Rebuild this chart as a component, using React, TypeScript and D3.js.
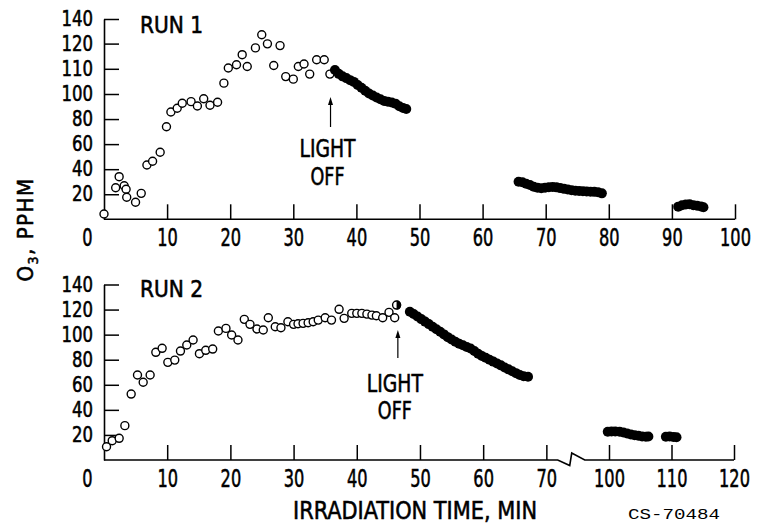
import { useEffect, useRef } from "react";
import * as d3 from "d3";

type Pt = [number, number];

// Run 1 (upper panel): time (min), O3 (pphm)
const run1Open: Pt[] = [
  [0.0, 4.2], [1.85, 25.2], [2.4, 34], [3.2, 26.8], [3.5, 24], [3.6, 17.6], [5.0, 13.6], [5.9, 20.7],
  [6.8, 43.3], [7.7, 46.3], [8.9, 53.5], [9.9, 73.9], [10.6, 85.6], [11.6, 88.6], [12.4, 92.6],
  [13.8, 93.9], [14.8, 90.4], [15.8, 96.2], [16.8, 91], [18.0, 93.4], [19.0, 104.3], [19.7, 110.3],
  [21.0, 111.6], [21.9, 115.6], [22.7, 110.9], [24.0, 118.3], [25.0, 127.2], [25.9, 119.9],
  [26.9, 111.3], [27.9, 119.2], [28.8, 106.9], [30.0, 105.9], [30.8, 110.9], [31.7, 111.9],
  [32.6, 107.9], [33.7, 113.6], [34.9, 113.6], [35.8, 107.9],
];
const run1Dark: Pt[] = [
  [36.6, 109.5], [37.2, 108], [37.8, 107], [38.4, 106.3], [39.0, 105.5], [39.6, 104.8], [40.2, 103.6],
  [40.8, 102.5], [41.4, 101.3], [42.0, 100.2], [42.6, 98.8], [43.2, 97.2], [43.8, 95.8], [44.4, 94.5],
  [45.0, 93.8], [45.6, 93.2], [46.2, 92.3], [46.8, 90.2], [47.4, 88.8], [47.9, 88.0],
  [65.7, 30], [66.3, 29.5], [66.9, 28.4], [67.5, 27.4], [68.1, 26.0], [68.7, 25.2], [69.3, 24.8],
  [69.9, 25.2], [70.5, 25.6], [71.1, 25.8], [71.7, 25.5], [72.3, 24.9], [72.9, 24.3], [73.5, 23.8],
  [74.1, 23.2], [74.7, 22.8], [75.3, 22.6], [75.9, 22.4], [76.5, 22.2], [77.1, 22.0], [77.7, 21.9],
  [78.3, 21.6], [78.9, 20.7],
  [91.0, 10.1], [91.6, 11.2], [92.2, 11.8], [92.8, 12.0], [93.4, 11.3], [94.0, 10.8], [94.6, 10.3], [95.0, 9.6],
];

// Run 2 (lower panel)
const run2Open: Pt[] = [
  [0.4, 10.6], [1.3, 15.4], [2.4, 17.3], [3.3, 27.4], [4.3, 52.6], [5.3, 67.8], [6.2, 62.0], [7.3, 67.8],
  [8.2, 85.9], [9.2, 89.1], [10.1, 77.9], [11.2, 79.7], [12.1, 86.9], [13.1, 91.7], [14.1, 95.7],
  [15.1, 84.8], [16.1, 87.5], [17.2, 88.5], [18.1, 102.9], [19.3, 105.0], [20.2, 99.7], [21.2, 95.7],
  [22.2, 112.2], [23.1, 108.2], [24.2, 104.5], [25.2, 103.7], [26.0, 113.5], [27.1, 106.3],
  [28.0, 105.5], [29.1, 110.3], [30.0, 108.2], [30.7, 108.7], [31.5, 109.0], [32.3, 109.5],
  [33.1, 110.3], [33.9, 111.6], [35.0, 113.5], [36.0, 111.6], [37.2, 120.2], [38.0, 113.0],
  [39.2, 117.0], [40.0, 117.0], [40.8, 117.0], [41.6, 116.4], [42.4, 115.6], [43.1, 115.1],
  [44.1, 113.5], [45.1, 117.8], [46.0, 113.5],
];
const run2Half: Pt[] = [[46.3, 123.6]];
const run2Dark: Pt[] = [
  [48.4, 118.3], [49.0, 116.4], [49.6, 114.5], [50.2, 112.4], [50.8, 110.4], [51.4, 108.4], [52.0, 106.3],
  [52.6, 104.3], [53.2, 102.3], [53.8, 100.2], [54.4, 98.0], [55.0, 96.1], [55.6, 94.4], [56.2, 92.8],
  [56.8, 91.5], [57.4, 90.2], [58.0, 88.9], [58.6, 86.9], [59.2, 84.8], [59.8, 83.0], [60.4, 81.5],
  [61.0, 80.0], [61.6, 78.5], [62.2, 77.0], [62.8, 75.5], [63.4, 73.8], [64.0, 72.3], [64.6, 70.8],
  [65.2, 69.3], [65.8, 67.8], [66.4, 66.8], [67.1, 66.4],
  [99.8, 22.6], [100.4, 22.8], [101.0, 22.7], [101.7, 22.5], [102.3, 22.0], [102.9, 21.2], [103.5, 20.4],
  [104.1, 19.8], [104.7, 19.3], [105.3, 18.8], [105.9, 18.6], [106.3, 18.8],
  [109.1, 18.6], [109.7, 18.7], [110.3, 18.4], [110.8, 18.1],
];

const run1XTicks = [0, 10, 20, 30, 40, 50, 60, 70, 80, 90, 100];
const run1YTicks = [20, 40, 60, 80, 100, 110, 120, 140];
const run2XTicks = [0, 10, 20, 30, 40, 50, 60, 70, 100, 110, 120];
const run2YTicks = [20, 40, 60, 80, 100, 120, 140];
const lightOff = [35.9, 46.5];

const FONT = "'Liberation Sans Narrow', 'DejaVu Sans Condensed', 'Arial Narrow', sans-serif";
const INK = 0.55; // thickens the lettering a bit

export default function App() {
  const svgRef = useRef<SVGSVGElement>(null);

  useEffect(() => {
    const svg = d3.select(svgRef.current);
    svg.selectAll("*").remove();

    const panels = [
      {
        x: d3.scaleLinear().domain([0, 100]).range([104, 735]),
        // the printed scale is not uniform above 100
        y: d3.scaleLinear().domain([0, 100, 120, 140]).range([219.3, 94, 43.6, 19]),
        xTicks: run1XTicks, yTicks: run1YTicks,
        open: run1Open, dark: run1Dark, half: [] as Pt[],
        title: "RUN 1", titleY: 33,
        off: lightOff[0], arrowTop: 97, arrowBot: 127, lightY: 157, offY: 185,
        broken: false,
      },
      {
        x: d3.scaleLinear().domain([0, 72, 96, 120]).range([104, 559, 584, 734]),
        y: d3.scaleLinear().domain([0, 140]).range([460, 284.5]),
        xTicks: run2XTicks, yTicks: run2YTicks,
        open: run2Open, dark: run2Dark, half: run2Half,
        title: "RUN 2", titleY: 297,
        off: lightOff[1], arrowTop: 330, arrowBot: 358, lightY: 391.7, offY: 419,
        broken: true,
      },
    ];

    panels.forEach((p) => {
      const g = svg.append("g");
      const y0 = p.y(0);

      // x axis
      const xa = g.append("g")
        .attr("transform", `translate(0,${y0})`)
        .call(
          d3.axisBottom(p.x).tickValues(p.xTicks).tickSize(-15).tickSizeOuter(0)
            .tickPadding(9).tickFormat(d3.format("d"))
        );
      xa.select(".domain").remove();
      xa.attr("font-size", 25).attr("font-family", FONT);
      xa.selectAll(".tick line").attr("stroke-width", 1.5);
      xa.selectAll<SVGTextElement, number>(".tick text")
        .attr("textLength", (d) => String(d).length * 10.3)
        .attr("lengthAdjust", "spacingAndGlyphs")
        .attr("stroke", "#000").attr("stroke-width", INK);
      xa.selectAll(".tick").filter((d) => d === 0).select("line").remove();
      xa.selectAll(".tick").filter((d) => d === 0).select("text").attr("dx", -17);

      // x axis base line, with a break for run 2
      const x0 = p.x.range()[0];
      const x1 = p.x.range()[p.x.range().length - 1];
      let linePts: Pt[] = [[x0, y0], [x1, y0]];
      if (p.broken) {
        const b = p.x(71.8);
        linePts = [[x0, y0], [b, y0], [b + 12, y0 + 5.5], [b + 14, y0 - 7], [b + 27, y0], [x1, y0]];
      }
      g.append("path")
        .attr("d", d3.line()(linePts))
        .attr("fill", "none").attr("stroke", "#000").attr("stroke-width", 1.6);

      // y axis
      const ya = g.append("g")
        .attr("transform", `translate(${x0},0)`)
        .call(
          d3.axisLeft(p.y).tickValues(p.yTicks).tickSize(-15).tickSizeOuter(0)
            .tickPadding(11).tickFormat(d3.format("d"))
        );
      ya.attr("font-size", 21).attr("font-family", FONT);
      ya.select(".domain").attr("stroke-width", 1.6);
      ya.selectAll(".tick line").attr("stroke-width", 1.5);
      ya.selectAll<SVGTextElement, number>(".tick text")
        .attr("textLength", (d) => String(d).length * 10.5)
        .attr("lengthAdjust", "spacingAndGlyphs")
        .attr("stroke", "#000").attr("stroke-width", INK);

      // points
      g.append("g").selectAll("circle")
        .data(p.open).join("circle")
        .attr("cx", (d) => p.x(d[0])).attr("cy", (d) => p.y(d[1]))
        .attr("r", 4).attr("fill", "#fff").attr("stroke", "#000").attr("stroke-width", 1.4);

      const halfG = g.append("g").selectAll("g").data(p.half).join("g")
        .attr("transform", (d) => `translate(${p.x(d[0])},${p.y(d[1])})`);
      halfG.append("circle").attr("r", 4).attr("fill", "#fff").attr("stroke", "#000").attr("stroke-width", 1.4);
      halfG.append("path")
        .attr("d", d3.arc()({ innerRadius: 0, outerRadius: 4.6, startAngle: 0, endAngle: Math.PI }) as string)
        .attr("fill", "#000");

      g.append("g").selectAll("circle")
        .data(p.dark).join("circle")
        .attr("cx", (d) => p.x(d[0])).attr("cy", (d) => p.y(d[1]))
        .attr("r", 5).attr("fill", "#000");

      // panel title
      g.append("text").attr("x", 140).attr("y", p.titleY)
        .attr("font-family", FONT).attr("font-size", 23)
        .attr("stroke", "#000").attr("stroke-width", INK)
        .attr("textLength", 63).attr("lengthAdjust", "spacingAndGlyphs")
        .text(p.title);

      // light off annotation
      const ax = p.x(p.off);
      g.append("line").attr("x1", ax).attr("x2", ax)
        .attr("y1", p.arrowTop + 5).attr("y2", p.arrowBot)
        .attr("stroke", "#000").attr("stroke-width", 1.2);
      g.append("path")
        .attr("d", `M${ax},${p.arrowTop}L${ax - 2.5},${p.arrowTop + 8}L${ax + 2.5},${p.arrowTop + 8}Z`)
        .attr("fill", "#000");
      g.append("text").attr("x", ax - 3).attr("y", p.lightY)
        .attr("text-anchor", "middle").attr("font-family", FONT).attr("font-size", 24)
        .attr("stroke", "#000").attr("stroke-width", INK)
        .attr("textLength", 56).attr("lengthAdjust", "spacingAndGlyphs")
        .text("LIGHT");
      g.append("text").attr("x", ax - 3).attr("y", p.offY)
        .attr("text-anchor", "middle").attr("font-family", FONT).attr("font-size", 24)
        .attr("stroke", "#000").attr("stroke-width", INK)
        .attr("textLength", 34).attr("lengthAdjust", "spacingAndGlyphs")
        .text("OFF");
    });

    // axis titles
    svg.append("text").attr("x", 293).attr("y", 519)
      .attr("font-family", FONT).attr("font-size", 25)
      .attr("stroke", "#000").attr("stroke-width", INK)
      .attr("textLength", 244).attr("lengthAdjust", "spacingAndGlyphs")
      .text("IRRADIATION TIME, MIN");

    const yt = svg.append("text")
      .attr("transform", "translate(33,229.5) rotate(-90)")
      .attr("text-anchor", "middle").attr("font-family", FONT).attr("font-size", 22)
      .attr("letter-spacing", 1.5)
      .attr("stroke", "#000").attr("stroke-width", INK);
    yt.append("tspan").text("O");
    yt.append("tspan").attr("font-size", 14).attr("dy", 5).text("3");
    yt.append("tspan").attr("dy", -5).text(",  PPHM");

    svg.append("text").attr("x", 628).attr("y", 519)
      .attr("font-family", "'Liberation Mono', 'DejaVu Sans Mono', monospace").attr("font-size", 15)
      .attr("textLength", 92).attr("lengthAdjust", "spacingAndGlyphs")
      .text("CS-70484");
  }, []);

  return (
    <svg
      ref={svgRef}
      width={765}
      height={526}
      style={{ position: "absolute", left: 0, top: 0, background: "#fff" }}
    />
  );
}
